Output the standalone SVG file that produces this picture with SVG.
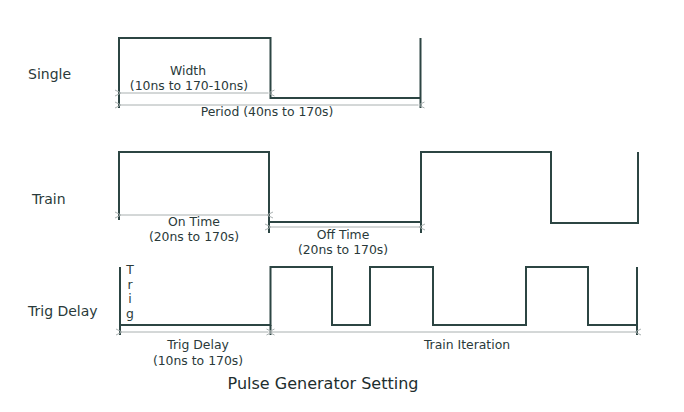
<svg xmlns="http://www.w3.org/2000/svg" width="684" height="412" viewBox="0 0 684 412">
<style>
.sig{fill:none;stroke:#2c4543;stroke-width:2;stroke-linejoin:miter}
.dim{fill:none;stroke:#a9b0b0;stroke-width:1}
.lbl{font-family:"DejaVu Sans",Verdana,sans-serif;font-size:14px;fill:#2a3a3a}
.sm{font-family:"DejaVu Sans",Verdana,sans-serif;font-size:12.4px;fill:#2a3a3a;text-anchor:middle}
.ttl{font-family:"DejaVu Sans",Verdana,sans-serif;font-size:16px;fill:#1e2e2e;text-anchor:middle}
</style>
<defs>
<marker id="ah" viewBox="0 0 8 8" refX="0" refY="4" markerWidth="8" markerHeight="8" markerUnits="userSpaceOnUse" orient="auto-start-reverse">
<path d="M6,1 L0,4 L6,7" fill="none" stroke="#a9b0b0" stroke-width="1"/>
</marker>
</defs>
<rect width="684" height="412" fill="#ffffff"/>
<g id="labels">
<text class="lbl" x="28" y="79">Single</text>
<text class="lbl" x="32" y="204">Train</text>
<text class="lbl" x="28" y="316">Trig Delay</text>
</g>
<g id="single">
<path class="sig" d="M119,108 V38 H270.5 V98 H420.5"/>
<path class="sig" d="M420.5,38 V108"/>
<text class="sm" x="188" y="75">Width</text>
<text class="sm" x="189" y="90">(10ns to 170-10ns)</text>
<text class="sm" x="267" y="116">Period (40ns to 170s)</text>
</g>
<g id="train">
<path class="sig" d="M119,220 V152 H269 V233"/>
<path class="sig" d="M269,222 H421 V152 H551 V223 H638 V152"/>
<path class="sig" d="M421,222 V233"/>
<text class="sm" x="194" y="226">On Time</text>
<text class="sm" x="194" y="241">(20ns to 170s)</text>
<text class="sm" x="343" y="239">Off Time</text>
<text class="sm" x="343" y="254">(20ns to 170s)</text>
</g>
<g id="trigdelay">
<path class="sig" d="M120,267 V335"/>
<path class="sig" d="M120,325 H270.5 V267 H332 V325 H370 V267 H433 V325 H526 V267 H588 V325 H637"/>
<path class="sig" d="M637,267 V335"/>
<path class="sig" d="M270.5,325 V335"/>
<text class="sm" x="130" y="274">T</text>
<text class="sm" x="130" y="289">r</text>
<text class="sm" x="130" y="303">i</text>
<text class="sm" x="130" y="318">g</text>
<text class="sm" x="198" y="349">Trig Delay</text>
<text class="sm" x="198" y="365">(10ns to 170s)</text>
<text class="sm" x="467" y="349">Train Iteration</text>
</g>
<g id="connectors">
<line class="dim" x1="121" y1="93" x2="268.5" y2="93" marker-start="url(#ah)" marker-end="url(#ah)"/>
<line class="dim" x1="121" y1="105" x2="418.5" y2="105" marker-start="url(#ah)" marker-end="url(#ah)"/>
<line class="dim" x1="121" y1="215" x2="267" y2="215" marker-start="url(#ah)" marker-end="url(#ah)"/>
<line class="dim" x1="271" y1="227" x2="419" y2="227" marker-start="url(#ah)" marker-end="url(#ah)"/>
<line class="dim" x1="122" y1="332" x2="268.5" y2="332" marker-start="url(#ah)" marker-end="url(#ah)"/>
<line class="dim" x1="272.5" y1="332" x2="635" y2="332" marker-start="url(#ah)" marker-end="url(#ah)"/>
</g>
<text class="ttl" x="323" y="389">Pulse Generator Setting</text>
</svg>
